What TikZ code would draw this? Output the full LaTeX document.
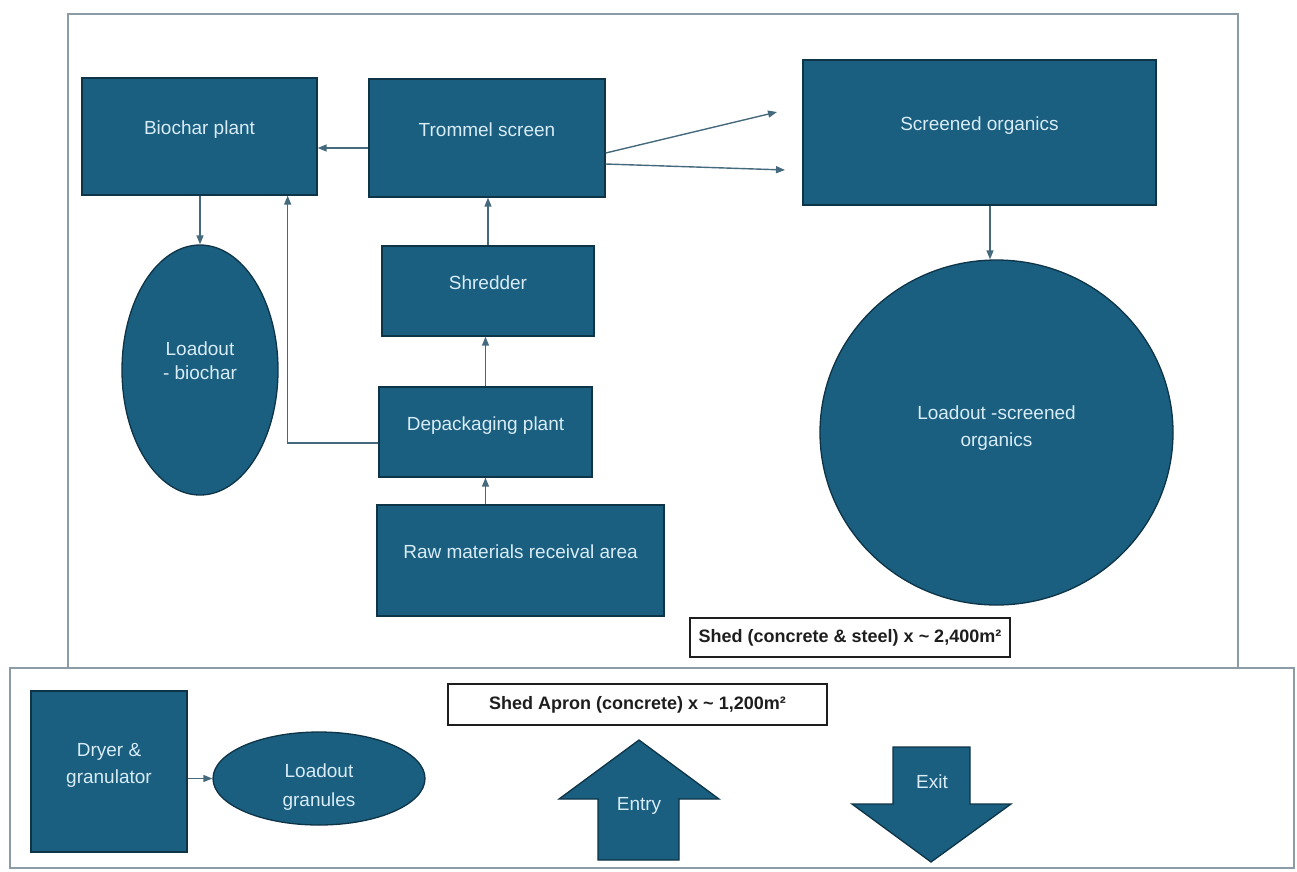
\documentclass[tikz,border=0pt]{standalone}
\usepackage{fontspec}
\setmainfont{Liberation Sans}
\usetikzlibrary{arrows.meta,shapes.geometric}
\definecolor{siteFill}{HTML}{1A5E80}
\definecolor{siteEdge}{HTML}{0E3447}
\definecolor{siteText}{HTML}{D8ECF6}
\definecolor{siteLine}{HTML}{45697D}
\definecolor{siteWall}{HTML}{8C9CA6}
\definecolor{siteInk}{HTML}{1E1E1E}
\tikzset{
  every picture/.style={font=\fontsize{19}{27}\selectfont},
  site shape/.style={fill=siteFill, draw=siteEdge, line width=1.3pt,
    text=siteText, align=center, inner sep=0pt},
  site box/.style={site shape, rectangle, text height=14pt, text depth=18pt},
  site block/.style={site shape, rectangle},
  site oval/.style={site shape, ellipse},
  site arrow/.style={-{Triangle[length=9pt,width=7pt]},
    draw=siteLine, line width=1.4pt},
  site wall/.style={draw=siteWall, line width=1.6pt},
  site label/.style={draw=siteInk, line width=1.1pt, fill=white,
    font=\fontsize{18}{22}\selectfont\bfseries, text=siteInk, inner sep=0pt}
}

\begin{document}
\begin{tikzpicture}[x=1pt,y=-1pt]
  \useasboundingbox (0,0) rectangle (1297,871);
  % shed and apron outlines
  \draw[site wall] (68,14) rectangle (1238,668);
  \draw[site wall] (10,668) rectangle (1294,868);

  % shed process boxes
  \node[site box, minimum width=235, minimum height=117] (biochar) at (199.5,136.5) {Biochar plant};
  \node[site box, minimum width=236, minimum height=118] (trommel) at (487,138) {Trommel screen};
  \node[site box, minimum width=353, minimum height=145] (screened) at (979.5,132.5) {Screened organics};
  \node[site box, minimum width=212, minimum height=90] (shredder) at (488,291) {Shredder};
  \node[site box, minimum width=213, minimum height=90] (depack) at (485.5,432) {Depackaging plant};
  \node[site box, minimum width=287, minimum height=111] (raw) at (520.5,560.5) {Raw materials receival area};
  \node[site oval, minimum width=156, minimum height=250] (lbio) at (200,370) {Loadout\\[-3pt]- biochar\\[-9pt]};
  \node[site oval, minimum width=353, minimum height=345] (lorg) at (996.5,432.5) {Loadout -screened\\organics\\[-15pt]};

  % labels
  \node[site label, minimum width=320, minimum height=39] (shedlbl) at (850,637.5) {Shed (concrete \& steel) x \textasciitilde\ 2,400m²};
  \node[site label, minimum width=379, minimum height=41] (apronlbl) at (637.5,704.5) {Shed Apron (concrete) x \textasciitilde\ 1,200m²};

  % apron
  \node[site block, minimum width=156, minimum height=161] (dryer) at (109,771.5) {Dryer \&\\granulator\\[-11pt]};
  \node[site oval, minimum width=212, minimum height=93] (gran) at (319,778.5) {Loadout\\[2pt]granules\\[-41pt]};

  % entry and exit
  \fill[siteFill, draw=siteEdge, line width=1.3pt] (598,860) -- (598,799) -- (559,799) -- (639,740)
    -- (719,799) -- (679,799) -- (679,860) -- cycle;
  \node[text=siteText] (entry) at (639,806) {Entry};
  \fill[siteFill, draw=siteEdge, line width=1.3pt] (893,747) -- (970,747) -- (970,804) -- (1011,804)
    -- (931,862) -- (852,804) -- (893,804) -- cycle;
  \node[text=siteText] (exit) at (932,782) {Exit};

  % flows
  \coordinate (tromW) at ([yshift=-10pt]trommel.west);
  \coordinate (depW) at ([yshift=-11pt]depack.west);
  \coordinate (bioIn) at ([xshift=-30pt]biochar.south east);
  \coordinate (screenA) at (777,112);
  \coordinate (screenB) at (785,170);
  \draw[site arrow] (tromW) -- (tromW -| biochar.east);
  \draw[site arrow] (biochar.south -| lbio.north) -- (lbio.north);
  \draw[site arrow] (depW) -| (bioIn);
  \draw[site arrow] (depack.north) -- (depack.north |- shredder.south);
  \draw[site arrow] (shredder.north) -- (shredder.north |- trommel.south);
  \draw[site arrow] (raw.north -| depack.south) -- (depack.south);
  \draw[site arrow] ([yshift=-15pt]trommel.east) -- (screenA);
  \draw[site arrow] ([yshift=-26pt]trommel.east) -- (screenB);
  \draw[site arrow] (screened.south -| 990,0) -- (lorg.north -| 990,0);
  \draw[site arrow] (dryer.east |- gran.west) -- (gran.west);
\end{tikzpicture}
\end{document}
